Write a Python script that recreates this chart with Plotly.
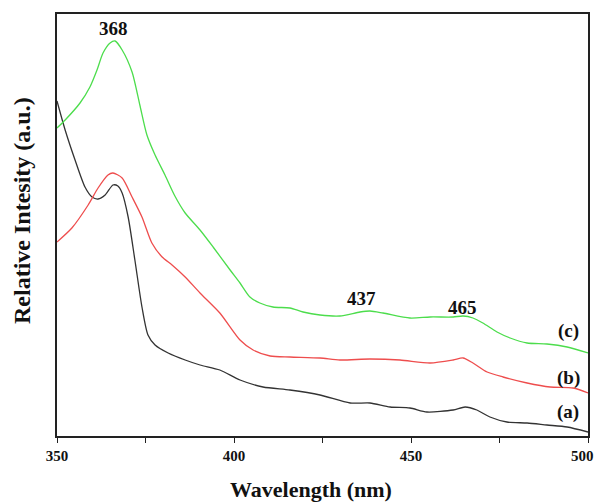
import plotly.graph_objects as go

# Wavelength (nm) and relative intensity (a.u.)
wl_c = [350.0, 352.3, 356.5, 359.3, 361.3, 363.0, 365.0, 366.4, 368.4, 371.2, 373.4, 375.4,
        377.7, 380.5, 383.3, 386.2, 390.4, 394.1, 398.9, 401.7, 404.5, 407.3, 411.0, 415.8,
        419.5, 424.3, 429.9, 435.6, 438.4, 442.1, 449.7, 455.4, 461.9, 464.7, 467.5, 470.3,
        474.3, 478.0, 482.8, 488.4, 494.1, 500.0]
int_c = [308, 316, 333, 349, 366, 383, 393, 395, 386, 364, 331, 301,
         281, 261, 240, 223, 206, 189, 166, 153, 139, 133, 129, 128,
         124, 121, 120, 124, 125, 123, 118, 119, 119, 120, 118, 113,
         104, 98, 93, 92, 89, 83]

wl_b = [350.0, 354.2, 358.8, 361.6, 364.4, 365.8, 368.4, 371.2, 374.0, 376.8, 379.7, 382.5,
        386.2, 390.4, 396.0, 401.7, 405.4, 410.2, 415.8, 424.3, 429.9, 438.4, 446.9, 455.4,
        461.9, 464.7, 467.5, 471.5, 476.0, 482.8, 489.3, 495.8, 500.0]
int_b = [194, 208, 231, 248, 261, 263, 258, 239, 219, 193, 179, 171,
         159, 143, 123, 96, 86, 80, 79, 78, 76, 77, 76, 73,
         76, 78, 73, 64, 59, 53, 49, 48, 43]

wl_a = [350.0, 352.3, 355.1, 357.9, 359.9, 361.6, 363.6, 365.8, 367.2, 368.4, 370.1, 372.0,
        374.0, 375.7, 377.7, 381.4, 386.2, 390.4, 396.0, 401.7, 408.2, 415.8, 424.3, 432.8,
        438.4, 444.1, 449.7, 454.5, 461.9, 465.3, 468.6, 472.3, 477.1, 482.8, 488.4, 494.1,
        500.0]
int_a = [335, 306, 276, 249, 239, 237, 241, 251, 250, 243, 219, 176,
         129, 101, 91, 83, 76, 71, 66, 56, 49, 46, 41, 33,
         33, 29, 28, 24, 26, 29, 26, 19, 14, 13, 11, 9,
         4]

x_ticks = [350, 400, 450, 500]
peak_labels = ["368", "437", "465"]
curve_labels = ["(c)", "(b)", "(a)"]

serif = "Liberation Serif, Times New Roman, serif"

fig = go.Figure()
for wl, iv, col in [(wl_a, int_a, "#333333"), (wl_b, int_b, "#ee4d4d"), (wl_c, int_c, "#4cdd4c")]:
    fig.add_trace(go.Scatter(x=wl, y=iv, mode="lines",
                             line=dict(color=col, width=1.3, shape="spline", smoothing=0.7),
                             showlegend=False, hoverinfo="skip"))

L, R, T, B = 57, 588, 14, 436
W, H = 597, 504


def px(xp):
    return (xp - L) / (R - L)


def py(yp):
    return (B - yp) / (B - T)


ann = []
for txt, (xp, yp) in zip(peak_labels, [(113, 28), (361, 299), (462, 307)]):
    ann.append(dict(text="<b>%s</b>" % txt, x=px(xp), y=py(yp), xref="paper", yref="paper",
                    xanchor="center", yanchor="middle",
                    showarrow=False, font=dict(family=serif, size=19, color="#111")))
for txt, (xp, yp) in zip(curve_labels, [(568, 331), (568, 378), (568, 412)]):
    ann.append(dict(text="<b>%s</b>" % txt, x=px(xp), y=py(yp), xref="paper", yref="paper",
                    xanchor="center", yanchor="middle",
                    showarrow=False, font=dict(family=serif, size=19, color="#111")))
ann.append(dict(text="<b>Wavelength (nm)</b>",
                x=px(311), y=py(489), xref="paper", yref="paper", showarrow=False,
                xanchor="center", yanchor="middle",
                font=dict(family=serif, size=22, color="#111")))
ann.append(dict(text="<b>Relative Intesity (a.u.)</b>", x=px(22), y=py(211),
                xref="paper", yref="paper", showarrow=False, textangle=-90,
                xanchor="center", yanchor="middle",
                font=dict(family=serif, size=24, color="#111")))
# last tick label kept inside the page edge
ann.append(dict(text="<b>%d</b>" % x_ticks[-1], x=px(596), y=py(456), xref="paper", yref="paper",
                showarrow=False, xanchor="right", yanchor="middle",
                font=dict(family=serif, size=15, color="#111")))

fig.update_layout(
    width=W, height=H,
    margin=dict(l=L, r=W - R, t=T, b=H - B, autoexpand=False),
    paper_bgcolor="white", plot_bgcolor="white",
    annotations=ann,
    xaxis=dict(range=[350, 500], tickvals=x_ticks,
               ticktext=["<b>%d</b>" % v for v in x_ticks[:-1]] + [""],
               ticks="outside", ticklen=5, tickwidth=1.3, tickcolor="#222",
               minor=dict(dtick=25, tick0=350, ticks="outside", ticklen=5, tickwidth=1.3, tickcolor="#222",
                          showgrid=False),
               showline=True, linecolor="#222", linewidth=1.8, mirror=True,
               showgrid=False, zeroline=False, automargin=False, ticklabeloverflow="allow",
               tickfont=dict(family=serif, size=15, color="#111")),
    yaxis=dict(range=[0, 422], showticklabels=False, ticks="", showline=True, automargin=False,
               linecolor="#222", linewidth=1.8, mirror=True, showgrid=False, zeroline=False),
)

fig.write_html("out.html")
